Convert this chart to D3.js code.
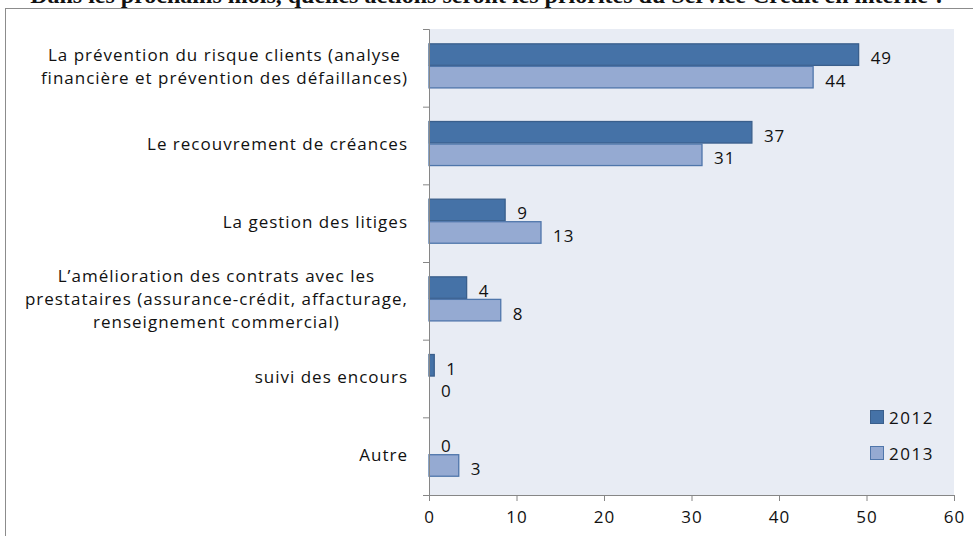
<!DOCTYPE html>
<html>
<head>
<meta charset="utf-8">
<script src="https://cdn.jsdelivr.net/npm/d3@7"></script>
<style>
  body { margin: 0; background: #fff; }
  svg { display: block; }
  text { font-family: 'Open Sans', sans-serif; fill: #111; }
  .title { font-family: 'Liberation Serif', serif; font-weight: bold; font-size: 24px; }
</style>
</head>
<body>
<svg id="chart" width="973" height="536"></svg>
<script>
// data
const categories = [
  'La prévention du risque clients (analyse\nfinancière et prévention des défaillances)',
  'Le recouvrement de créances',
  'La gestion des litiges',
  'L’amélioration des contrats avec les\nprestataires (assurance-crédit, affacturage,\nrenseignement commercial)',
  'suivi des encours',
  'Autre'
]
const seriesNames = ['2012', '2013']
const values2012 = [49.1, 36.9, 8.7, 4.3, 0.6, 0]
const values2013 = [43.9, 31.2, 12.8, 8.2, 0, 3.4]
const xTicks = [0, 10, 20, 30, 40, 50, 60]
const titleText = 'Dans les prochains mois, quelles actions seront les priorités du Service Crédit en interne ?'

const colors = { '2012': '#4572a7', '2013': '#95aad2' }
const strokes = { '2012': '#3a5f8c', '2013': '#4f76ab' }

const svg = d3.select('#chart')
const plot = { left: 429, right: 954, top: 29, bottom: 495 }
const fontSize = '17px'
const spacing = '1px'

// chart frame (runs off the right / bottom edges) and clipped title
svg.append('rect')
  .attr('x', 5.5).attr('y', 8.5)
  .attr('width', 990).attr('height', 560)
  .attr('fill', 'none').attr('stroke', '#8c8c8c')

svg.append('text')
  .attr('class', 'title')
  .attr('x', 488).attr('y', 3)
  .attr('text-anchor', 'middle')
  .text(titleText)

const x = d3.scaleLinear().domain([0, 60]).range([plot.left, plot.right])
const y = d3.scaleBand().domain(d3.range(categories.length))
  .range([plot.top, plot.bottom])
  .paddingInner(0.42).paddingOuter(0.21).align(0.44)
const ySerie = d3.scaleBand().domain(seriesNames).range([0, y.bandwidth()])

const rows = categories.map((c, i) => ({ i, values: { '2012': values2012[i], '2013': values2013[i] } }))

svg.append('rect')
  .attr('x', plot.left).attr('y', plot.top)
  .attr('width', plot.right - plot.left).attr('height', plot.bottom - plot.top)
  .attr('fill', '#e8ecf4')

// bars
const groups = svg.selectAll('g.row')
  .data(rows)
  .enter().append('g')
  .attr('class', 'row')
  .attr('transform', (d) => `translate(0, ${y(d.i)})`)

groups.selectAll('rect')
  .data((d) => seriesNames.map((s) => ({ s, v: d.values[s] })))
  .enter().append('rect')
  .filter((d) => d.v > 0)
  .attr('x', x(0))
  .attr('y', (d) => ySerie(d.s) + 0.5)
  .attr('width', (d) => x(d.v) - x(0))
  .attr('height', ySerie.bandwidth() - 1)
  .attr('fill', (d) => colors[d.s])
  .attr('stroke', (d) => strokes[d.s])
  .attr('stroke-width', 1.3)

groups.selectAll('text.value')
  .data((d) => seriesNames.map((s) => ({ s, v: d.values[s] })))
  .enter().append('text')
  .attr('class', 'value')
  .attr('x', (d) => x(d.v) + 12)
  .attr('y', (d) => ySerie(d.s) + ySerie.bandwidth() / 2 + 3)
  .attr('dominant-baseline', 'central')
  .style('font-size', fontSize)
  .style('letter-spacing', spacing)
  .text((d) => d3.format('.0f')(d.v))

// x axis
const xAxis = svg.append('g')
  .attr('transform', `translate(0, ${plot.bottom})`)
  .call(d3.axisBottom(x).tickValues(xTicks).tickSize(6).tickPadding(10))
xAxis.select('.domain').attr('stroke', '#868686')
xAxis.selectAll('.tick line').attr('stroke', '#868686')
xAxis.selectAll('.tick text')
  .style('font-family', "'Open Sans', sans-serif")
  .style('font-size', fontSize)
  .style('letter-spacing', spacing)
  .attr('fill', '#111')

// y axis: ticks at category boundaries
const yEdges = d3.scaleLinear().domain([0, categories.length]).range([plot.top, plot.bottom])
const yAxis = svg.append('g')
  .attr('transform', `translate(${plot.left}, 0)`)
  .call(d3.axisLeft(yEdges).tickValues(d3.range(categories.length + 1)).tickSize(6).tickFormat(''))
yAxis.select('.domain').attr('stroke', '#868686')
yAxis.selectAll('.tick line').attr('stroke', '#868686')

// category labels: block right-aligned, lines centred within the block
const labelRight = 408
const lineHeight = 23
categories.forEach((c, i) => {
  const lines = c.split('\n')
  const g = svg.append('g')
  const cy = y(i) + y.bandwidth() / 2
  const texts = lines.map((line, k) => g.append('text')
    .attr('y', cy + (k - (lines.length - 1) / 2) * lineHeight)
    .attr('dominant-baseline', 'central')
    .attr('text-anchor', 'middle')
    .style('font-size', fontSize)
    .style('letter-spacing', spacing)
    .text(line))
  const maxW = d3.max(texts, (t) => t.node().getComputedTextLength())
  texts.forEach((t) => t.attr('x', labelRight - maxW / 2))
})

// legend
const legend = svg.append('g').attr('transform', 'translate(870, 410)')
seriesNames.forEach((s, k) => {
  legend.append('rect')
    .attr('x', 0.5).attr('y', k * 36 + 0.5)
    .attr('width', 13).attr('height', 13)
    .attr('fill', colors[s]).attr('stroke', strokes[s])
  legend.append('text')
    .attr('x', 19).attr('y', k * 36 + 7)
    .attr('dominant-baseline', 'central')
    .style('font-size', fontSize)
    .style('letter-spacing', '1.5px')
    .text(s)
})
</script>
</body>
</html>
